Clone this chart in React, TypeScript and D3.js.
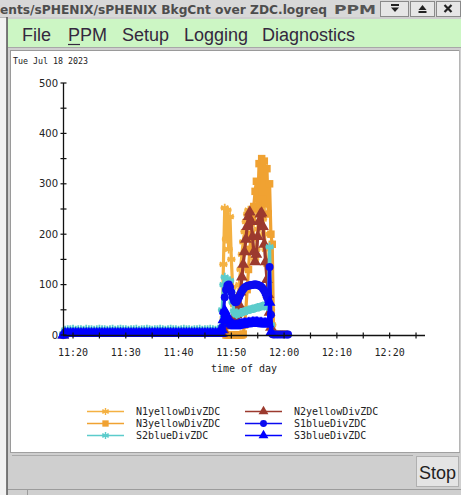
import React from 'react';
import * as d3 from 'd3';

// minutes after 11:00
const TIMES: number[] = [
  18.15, 18.5, 19, 19.5, 20, 20.5, 21, 21.5, 22, 22.5,
  23, 23.5, 24, 24.5, 25, 25.5, 26, 26.5, 27, 27.5,
  28, 28.5, 29, 29.5, 30, 30.5, 31, 31.5, 32, 32.5,
  33, 33.5, 34, 34.5, 35, 35.5, 36, 36.5, 37, 37.5,
  38, 38.5, 39, 39.5, 40, 40.5, 41, 41.5, 42, 42.5,
  43, 43.5, 44, 44.5, 45, 45.5, 46, 46.5, 47, 47.5, 48,
  48.25, 48.5, 48.75, 49, 49.25, 49.5, 49.75, 50, 50.25, 50.5,
  50.75, 51, 51.25, 51.5, 51.75, 52, 52.25, 52.5, 52.75, 53,
  53.25, 53.5, 53.75, 54, 54.25, 54.5, 54.75, 55, 55.25, 55.5,
  55.75, 56, 56.25, 56.5, 56.75, 57, 57.25, 57.5, 57.75, 58,
  58.5, 59, 59.5, 60, 60.5, 60.75,
];

const N1_YELLOW: (number | null)[] = [
  0, 5, 5, 5, 5, 5, 5, 5, 5, 5,
  5, 5, 5, 5, 5, 5, 5, 5, 5, 5,
  5, 5, 5, 5, 5, 5, 5, 5, 5, 5,
  5, 5, 5, 5, 5, 5, 5, 5, 5, 5,
  5, 5, 5, 5, 5, 5, 5, 5, 5, 5,
  5, 5, 5, 5, 5, 5, 5, 5, 5, 5, 5,
  8, 140, 252, 190, 248, 170, 235, 150, 95, 60,
  40, 45, 70, 100, 130, 160, 185, 205, 225, 240,
  248, 240, 220, 190, 165, 150, 170, 210, 240, 255,
  250, 230, 200, 170, 140, 110, 80, 50, 20, 2,
  null, null, null, null, null, null,
];

const N2_YELLOW: (number | null)[] = [
  0, 3, 3, 3, 3, 3, 3, 3, 3, 3,
  3, 3, 3, 3, 3, 3, 3, 3, 3, 3,
  3, 3, 3, 3, 3, 3, 3, 3, 3, 3,
  3, 3, 3, 3, 3, 3, 3, 3, 3, 3,
  3, 3, 3, 3, 3, 3, 3, 3, 3, 3,
  3, 3, 3, 3, 3, 3, 3, 3, 3, 3, 3,
  3, 10, 18, 22, 20, 22, 25, 28, 30, 32,
  35, 40, 48, 60, 85, 115, 140, 165, 190, 215,
  235, 244, 225, 195, 165, 145, 160, 195, 225, 240,
  242, 215, 180, 145, 110, 80, 45, 15, null, null,
  null, null, null, null, null, null,
];

const N3_YELLOW: (number | null)[] = [
  0, 4, 4, 4, 4, 4, 4, 4, 4, 4,
  4, 4, 4, 4, 4, 4, 4, 4, 4, 4,
  4, 4, 4, 4, 4, 4, 4, 4, 4, 4,
  4, 4, 4, 4, 4, 4, 4, 4, 4, 4,
  4, 4, 4, 4, 4, 4, 4, 4, 4, 4,
  4, 4, 4, 4, 4, 4, 4, 4, 4, 4, 4,
  5, 30, 5, 0, 0, 0, 0, 0, 0, 0,
  0, 0, 0, 0, 0, 0, 2, 20, 50, 90,
  130, 170, 200, 230, 255, 285, 305, 250, 340, 260,
  350, 270, 345, 260, 330, 240, 300, 200, 180, 3,
  2, 2, 2, 2, null, null,
];

const S1_BLUE: (number | null)[] = [
  0, 5, 5, 5, 5, 5, 5, 5, 5, 5,
  5, 5, 5, 5, 5, 5, 5, 5, 5, 5,
  5, 5, 5, 5, 5, 5, 5, 5, 5, 5,
  5, 5, 5, 5, 5, 5, 5, 5, 5, 5,
  5, 5, 5, 5, 5, 5, 5, 5, 5, 5,
  5, 5, 5, 5, 5, 5, 5, 5, 5, 5, 5,
  15, 45, 75, 90, 98, 100, 95, 85, 75, 68,
  65, 66, 70, 76, 82, 87, 91, 94, 96, 97,
  98, 98, 99, 99, 100, 100, 100, 99, 98, 97,
  95, 92, 88, 82, 75, 68, 135, 40, 2, 1,
  1, 1, 1, 1, 1, 1,
];

const S2_BLUE: (number | null)[] = [
  2, 10, 11, 11, 12, 10, 11, 11, 10, 12,
  11, 11, 10, 11, 12, 11, 11, 10, 11, 12,
  10, 11, 12, 11, 11, 10, 11, 11, 12, 10,
  11, 11, 12, 11, 10, 11, 11, 12, 11, 10,
  11, 12, 11, 11, 10, 11, 12, 11, 11, 10,
  11, 11, 12, 10, 11, 11, 12, 11, 10, 12, 13,
  50, 100, 115, 95, 110, 100, 108, 85, 65, 48,
  42, 40, 42, 43, 45, 44, 46, 47, 48, 48,
  50, 50, 51, 52, 52, 53, 54, 55, 55, 56,
  57, 58, 57, 58, 56, 60, 175, 20, null, null,
  null, null, null, null, null, null,
];

const S3_BLUE: (number | null)[] = [
  0, 3, 3, 3, 3, 3, 3, 3, 3, 3,
  3, 3, 3, 3, 3, 3, 3, 3, 3, 3,
  3, 3, 3, 3, 3, 3, 3, 3, 3, 3,
  3, 3, 3, 3, 3, 3, 3, 3, 3, 3,
  3, 3, 3, 3, 3, 3, 3, 3, 3, 3,
  3, 3, 3, 3, 3, 3, 3, 3, 3, 3, 3,
  10, 30, 48, 42, 35, 28, 24, 22, 20, 19,
  18, 18, 19, 20, 20, 21, 21, 22, 22, 22,
  23, 23, 23, 24, 24, 24, 24, 24, 23, 23,
  23, 22, 22, 22, 22, 22, 65, 5, null, null,
  null, null, null, null, null, null,
];

const Y_TICKS = [0, 100, 200, 300, 400, 500];
const Y_MINOR = [50, 150, 250, 350, 450];
const X_LABELS = [20, 30, 40, 50, 60, 70, 80];
const X_TICKS = [20, 25, 30, 35, 40, 45, 50, 55, 60, 65, 70, 75, 80, 85];
const MENU = ['File', 'PPM', 'Setup', 'Logging', 'Diagnostics'];
const MENU_X = [22, 68, 122, 184, 262];

type Sym = 'star' | 'square' | 'triangle' | 'circle';
interface Series { name: string; values: (number | null)[]; color: string; sym: Sym; }

const SERIES: Series[] = [
  { name: 'N1yellowDivZDC', values: N1_YELLOW, color: '#f4b142', sym: 'star' },
  { name: 'N2yellowDivZDC', values: N2_YELLOW, color: '#9c3a2e', sym: 'triangle' },
  { name: 'N3yellowDivZDC', values: N3_YELLOW, color: '#f0a232', sym: 'square' },
  { name: 'S1blueDivZDC', values: S1_BLUE, color: '#0b0bf0', sym: 'circle' },
  { name: 'S2blueDivZDC', values: S2_BLUE, color: '#5ccccc', sym: 'star' },
  { name: 'S3blueDivZDC', values: S3_BLUE, color: '#0000ff', sym: 'triangle' },
];
const DRAW_ORDER = ['N1yellowDivZDC', 'N3yellowDivZDC', 'N2yellowDivZDC', 'S2blueDivZDC', 'S1blueDivZDC', 'S3blueDivZDC'];
const LEGEND_ROWS = [
  ['N1yellowDivZDC', 'N2yellowDivZDC'],
  ['N3yellowDivZDC', 'S1blueDivZDC'],
  ['S2blueDivZDC', 'S3blueDivZDC'],
];

const x = d3.scaleLinear().domain([18.1, 86.7]).range([63, 425]);
const y = d3.scaleLinear().domain([0, 500]).range([335, 83]);

const fmtTime = (t: number) => {
  const m = 660 + t;
  const h = Math.floor(m / 60);
  const mm = Math.round(m % 60);
  return `${h}:${mm < 10 ? '0' + mm : mm}`;
};

const starPath = (r: number) => {
  const a = r * 0.87, b = r * 0.5;
  return `M0,${-r}L0,${r}M${-a},${-b}L${a},${b}M${-a},${b}L${a},${-b}M${-r},0L${r},0`;
};
const symPathsLegend: Record<Sym, string> = {
  star: starPath(3.6),
  square: d3.symbol(d3.symbolSquare, 40)() as string,
  triangle: d3.symbol(d3.symbolTriangle, 42)() as string,
  circle: d3.symbol(d3.symbolCircle, 38)() as string,
};
const symPathsPlot: Record<Sym, string> = {
  star: starPath(4.2),
  square: d3.symbol(d3.symbolSquare, 56)() as string,
  triangle: d3.symbol(d3.symbolTriangle, 60)() as string,
  circle: d3.symbol(d3.symbolCircle, 50)() as string,
};

function Marker({ s, cx, cy, plot }: { s: Series; cx: number; cy: number; plot?: boolean }) {
  const P = plot ? symPathsPlot : symPathsLegend;
  if (s.sym === 'star') {
    return <path d={P.star} transform={`translate(${cx},${cy})`} fill="none" stroke={s.color} strokeWidth={plot ? 1.8 : 1.4} />;
  }
  return <path d={P[s.sym]} transform={`translate(${cx},${cy})`} fill={s.color} />;
}

export default function App() {
  const line = d3.line<{ t: number; v: number | null }>()
    .defined(d => d.v != null)
    .x(d => x(d.t))
    .y(d => y(d.v as number));

  const byName = (n: string) => SERIES.find(s => s.name === n)!;

  return (
    <svg width={461} height={495} style={{ position: 'absolute', left: 0, top: 0, display: 'block' }}
      fontFamily="DejaVu Sans">
      <rect x={0} y={0} width={461} height={495} fill="#f2f2f2" />
      {/* title bar */}
      <rect x={0} y={0} width={461} height={18} fill="#d8d8d8" />
      <line x1={0} y1={17.5} x2={461} y2={17.5} stroke="#b8b8b8" />
      <text x={0} y={14} fontSize={12.5} fontWeight="bold" fill="#4d4d4d" textLength={327} lengthAdjust="spacingAndGlyphs">
        ents/sPHENIX/sPHENIX BkgCnt over ZDC.logreq
      </text>
      <text x={334} y={14} fontSize={12.5} fontWeight="bold" fill="#555" textLength={42} lengthAdjust="spacingAndGlyphs">PPM</text>
      <rect x={380.5} y={1.5} width={28} height={15} fill="#e6e6e6" stroke="#8a8a8a" />
      <rect x={410.5} y={1.5} width={24} height={15} fill="#e6e6e6" stroke="#8a8a8a" />
      <rect x={436.5} y={1.5} width={24} height={15} fill="#e6e6e6" stroke="#8a8a8a" />
      <rect x={391} y={4} width={8} height={2} fill="#222" />
      <path d="M391,7.5 L399,7.5 L395,12 Z" fill="#222" />
      <path d="M418.5,10 L426.5,10 L422.5,5 Z" fill="#222" />
      <rect x={418.5} y={11} width={8} height={2} fill="#222" />
      <path d="M444.5,5 L451.5,12 M451.5,5 L444.5,12" stroke="#222" strokeWidth={2.2} />

      {/* window frame */}
      <rect x={7} y={17} width={454} height={478} fill="#cfcfcf" />
      <line x1={7} y1={17} x2={7} y2={495} stroke="#555" strokeWidth={1.5} />

      {/* menu bar */}
      <rect x={8} y={19} width={453} height={28} fill="#ccf6c4" />
      <line x1={8} y1={47.5} x2={461} y2={47.5} stroke="#a8a8a8" />
      {MENU.map((m, i) => (
        <text key={m} x={MENU_X[i]} y={41} fontFamily="Liberation Sans" fontSize={18} fill="#34283e">{m}</text>
      ))}
      <line x1={68} y1={44.5} x2={80} y2={44.5} stroke="#34283e" strokeWidth={1.2} />

      {/* chart panel */}
      <rect x={10} y={50} width={449} height={402} fill="#ffffff" />
      <line x1={10} y1={50.5} x2={459} y2={50.5} stroke="#9a9a9a" />
      <line x1={10.5} y1={50} x2={10.5} y2={452} stroke="#9a9a9a" />
      <line x1={459.5} y1={50} x2={459.5} y2={452} stroke="#b5b5b5" />
      <line x1={10} y1={452.5} x2={460} y2={452.5} stroke="#a0a0a0" />

      <text x={13} y={64} fontFamily="DejaVu Sans Mono" fontSize={9} fill="#222" textLength={75} lengthAdjust="spacingAndGlyphs">Tue Jul 18 2023</text>

      {/* series */}
      {DRAW_ORDER.map(n => {
        const s = byName(n);
        const pts = TIMES.map((t, i) => ({ t, v: s.values[i] }));
        return (
          <g key={n}>
            <path d={line(pts) || ''} fill="none" stroke={s.color} strokeWidth={3.2} strokeLinejoin="round" />
            {pts.filter(p => p.v != null).map((p, i) => (
              <Marker key={i} s={s} plot cx={x(p.t)} cy={y(p.v as number)} />
            ))}
          </g>
        );
      })}

      {/* y axis */}
      <line x1={63.5} y1={y(500)} x2={63.5} y2={y(0)} stroke="#111" strokeWidth={1.3} />
      {Y_TICKS.map(v => (
        <g key={v}>
          <line x1={60.5} x2={66.5} y1={y(v)} y2={y(v)} stroke="#111" strokeWidth={1.2} />
          <text x={58} y={y(v) + 3.5} fontSize={10} textAnchor="end" fill="#222">{v}</text>
        </g>
      ))}
      {Y_MINOR.map(v => (
        <line key={v} x1={60.5} x2={66.5} y1={y(v)} y2={y(v)} stroke="#111" strokeWidth={1.2} />
      ))}

      {/* x axis */}
      <line x1={63} y1={335.5} x2={x(86.7)} y2={335.5} stroke="#111" strokeWidth={1.3} />
      {X_TICKS.map(t => (
        <line key={t} x1={x(t)} x2={x(t)} y1={332.5} y2={338.5} stroke="#111" strokeWidth={1.2} />
      ))}
      {X_LABELS.map(t => (
        <text key={t} x={x(t)} y={356} fontFamily="DejaVu Sans Mono" fontSize={10} textAnchor="middle" fill="#222">{fmtTime(t)}</text>
      ))}
      <text x={244} y={372} fontFamily="DejaVu Sans Mono" fontSize={10} textAnchor="middle" fill="#222">time of day</text>

      {/* legend */}
      {LEGEND_ROWS.map((row, ri) => row.map((n, ci) => {
        const s = byName(n);
        const cy = 411.5 + ri * 12;
        const x0 = ci === 0 ? 87 : 245;
        return (
          <g key={n}>
            <line x1={x0} x2={x0 + 37} y1={cy} y2={cy} stroke={s.color} strokeWidth={1.5} />
            <Marker s={s} cx={x0 + 18.5} cy={cy} />
            <text x={x0 + 49} y={cy + 3.8} fontFamily="DejaVu Sans Mono" fontSize={10} fill="#222">{s.name}</text>
          </g>
        );
      }))}

      {/* status area */}
      <line x1={12} y1={455.5} x2={413} y2={455.5} stroke="#a9a9a9" />
      <rect x={416.5} y={456.5} width={42} height={30} fill="#e4e4e4" stroke="#b0b0b0" />
      <text x={437.5} y={479} fontFamily="Liberation Sans" fontSize={18} textAnchor="middle" fill="#222">Stop</text>
      <line x1={8} y1={489.5} x2={461} y2={489.5} stroke="#9c9c9c" />
      <line x1={27.5} y1={489.5} x2={27.5} y2={495} stroke="#9c9c9c" />
    </svg>
  );
}
